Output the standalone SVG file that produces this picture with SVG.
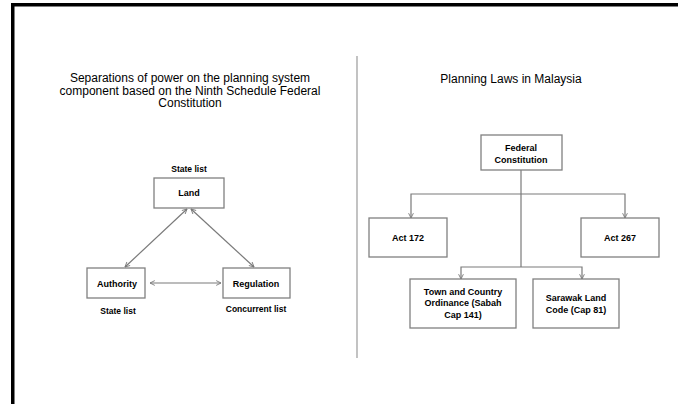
<svg xmlns="http://www.w3.org/2000/svg" width="678" height="404" viewBox="0 0 678 404">
<style>
.t{font-family:"Liberation Sans",Arial,sans-serif;fill:#000;text-anchor:middle}
.title{font-size:12px}
.n{font-size:9px;font-weight:bold}
.s{font-size:8.5px;font-weight:bold}
.box{fill:#fff;stroke:#808080;stroke-width:1.3}
.c{fill:none;stroke:#7a7a7a;stroke-width:1.2}
</style>
<defs>
<marker id="ah" viewBox="0 0 10 10" refX="9" refY="5" markerWidth="6" markerHeight="6" orient="auto-start-reverse" markerUnits="userSpaceOnUse">
<path d="M1,1 L9,5 L1,9" fill="none" stroke="#7a7a7a" stroke-width="1.5"/>
</marker>
</defs>
<rect width="678" height="404" fill="#fff"/>
<rect x="11" y="3" width="667" height="3.5" fill="#000"/>
<rect x="11" y="3" width="3.5" height="401" fill="#000"/>
<line x1="357" y1="56" x2="357" y2="358" stroke="#9a9a9a" stroke-width="1.2"/>
<g id="titles">
<text class="t title" x="190" y="82">Separations of power on the planning system</text>
<text class="t title" x="190" y="94.5">component based on the Ninth Schedule Federal</text>
<text class="t title" x="190" y="107">Constitution</text>
<text class="t title" x="511" y="83">Planning Laws in Malaysia</text>
</g>
<g id="connectors">
<line class="c" x1="187" y1="209" x2="125" y2="267" marker-start="url(#ah)" marker-end="url(#ah)"/>
<line class="c" x1="191" y1="209" x2="254" y2="267" marker-start="url(#ah)" marker-end="url(#ah)"/>
<line class="c" x1="150" y1="283" x2="221" y2="283" marker-start="url(#ah)" marker-end="url(#ah)"/>
<line class="c" x1="521" y1="170" x2="521" y2="267"/>
<polyline class="c" points="411,218 411,194 625,194 625,218" marker-start="url(#ah)" marker-end="url(#ah)"/>
<polyline class="c" points="461,279 461,267 582,267 582,279" marker-start="url(#ah)" marker-end="url(#ah)"/>
</g>
<g id="land">
<text class="t s" x="189" y="172">State list</text>
<rect class="box" x="154" y="178" width="70" height="30"/>
<text class="t n" x="189" y="196">Land</text>
</g>
<g id="authority">
<rect class="box" x="87" y="268" width="58" height="30"/>
<text class="t n" x="117" y="286.5">Authority</text>
<text class="t s" x="118" y="314">State list</text>
</g>
<g id="regulation">
<rect class="box" x="223" y="268" width="67" height="30"/>
<text class="t n" x="256" y="286.5">Regulation</text>
<text class="t s" x="256" y="312">Concurrent list</text>
</g>
<g id="federal">
<rect class="box" x="481" y="135" width="81" height="35"/>
<text class="t n" x="521" y="150.5">Federal</text>
<text class="t n" x="521" y="162.5">Constitution</text>
</g>
<g id="act172">
<rect class="box" x="369" y="218" width="78" height="39"/>
<text class="t n" x="408" y="240.5">Act 172</text>
</g>
<g id="act267">
<rect class="box" x="581" y="218" width="78" height="39"/>
<text class="t n" x="620" y="240.5">Act 267</text>
</g>
<g id="town">
<rect class="box" x="410" y="279" width="106" height="49"/>
<text class="t n" x="463" y="294.5">Town and Country</text>
<text class="t n" x="463" y="306">Ordinance (Sabah</text>
<text class="t n" x="463" y="317.5">Cap 141)</text>
</g>
<g id="sarawak">
<rect class="box" x="533" y="279" width="86" height="49"/>
<text class="t n" x="576" y="300.5">Sarawak Land</text>
<text class="t n" x="576" y="312.5">Code (Cap 81)</text>
</g>
</svg>
